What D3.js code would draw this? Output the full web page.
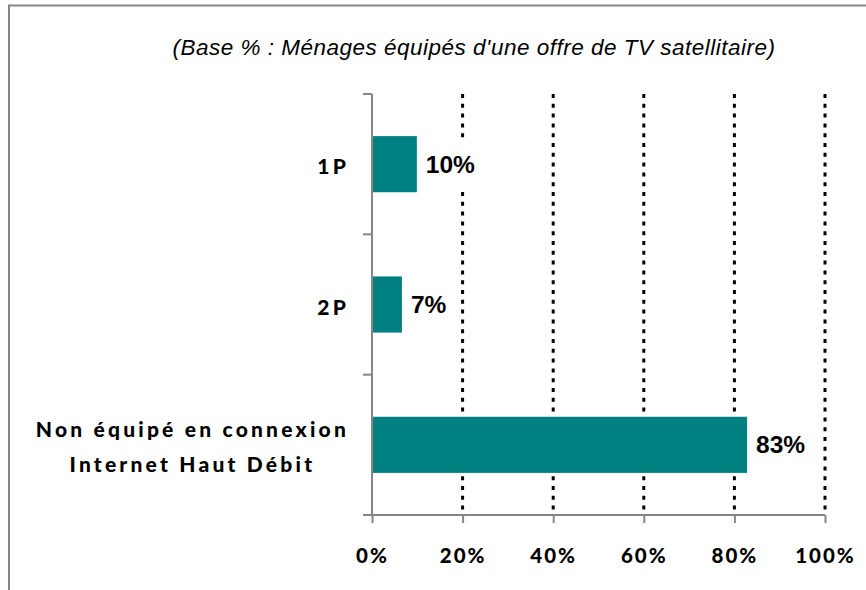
<!DOCTYPE html>
<html>
<head>
<meta charset="utf-8">
<script src="https://cdn.jsdelivr.net/npm/d3@7"></script>
<style>
  html, body { margin: 0; padding: 0; background: #fff; }
  svg { display: block; }
</style>
</head>
<body>
<svg id="chart" width="866" height="590"></svg>
<script>
const titleText = "(Base % : Ménages équipés d'une offre de TV satellitaire)";
const categories = ["1P", "2P", "Non équipé en connexion\nInternet Haut Débit"];
const values = [9.9, 6.6, 82.8];
const tickValues = [0, 20, 40, 60, 80, 100];
const tickLabels = ["0%", "20%", "40%", "60%", "80%", "100%"];

const svg = d3.select("#chart");
const plot = { left: 372, right: 825, top: 94, bottom: 515 };

// outer frame (cropped on right/bottom)
svg.append("rect")
  .attr("x", 9).attr("y", 5.5)
  .attr("width", 900).attr("height", 700)
  .attr("fill", "#fff").attr("stroke", "#868686").attr("stroke-width", 2);

// title
svg.append("text")
  .attr("x", 474).attr("y", 47)
  .attr("text-anchor", "middle").attr("dominant-baseline", "central")
  .attr("font-family", "Liberation Sans, Arial, sans-serif")
  .attr("font-style", "italic").attr("font-size", 22.5).attr("letter-spacing", 0.5).attr("fill", "#000")
  .text(titleText);

const x = d3.scaleLinear().domain([0, 100]).range([plot.left, plot.right]);
const y = d3.scaleBand().domain(categories).range([plot.top, plot.bottom]).paddingInner(0.6).paddingOuter(0.3);

// gridlines (dotted)
svg.append("g").selectAll("line")
  .data(tickValues.filter(d => d > 0))
  .join("line")
  .attr("x1", d => x(d)).attr("x2", d => x(d))
  .attr("y1", plot.top).attr("y2", plot.bottom)
  .attr("stroke", "#000").attr("stroke-width", 3)
  .attr("stroke-dasharray", "4,5.8");

// bars
svg.append("g").selectAll("rect")
  .data(categories)
  .join("rect")
  .attr("x", x(0))
  .attr("y", d => y(d))
  .attr("width", (d, i) => x(values[i]) - x(0))
  .attr("height", y.bandwidth())
  .attr("fill", "#008080");

// value labels with white background
const lblG = svg.append("g");
categories.forEach((c, i) => {
  const g = lblG.append("g");
  const bg = g.append("rect").attr("fill", "#fff");
  const t = g.append("text")
    .attr("x", x(values[i]) + 9)
    .attr("y", y(c) + y.bandwidth() / 2)
    .attr("dominant-baseline", "central")
    .attr("font-family", "Liberation Sans, Arial, sans-serif")
    .attr("font-weight", "bold").attr("font-size", 24.5).attr("fill", "#000")
    .text(Math.round(values[i]) + "%");
  const w = t.node().getComputedTextLength();
  bg.attr("x", x(values[i]) + 6).attr("y", y(c) + 2)
    .attr("width", w + 6).attr("height", y.bandwidth() - 4);
});

// x axis
const xAxis = d3.axisBottom(x).tickValues(tickValues).tickFormat((d, i) => tickLabels[i]).tickSize(8).tickPadding(25);
const gx = svg.append("g").attr("transform", `translate(0,${plot.bottom})`).call(xAxis);
gx.select(".domain").remove();
gx.append("line").attr("x1", plot.left - 9).attr("x2", plot.right).attr("y1", 0).attr("y2", 0)
  .attr("stroke", "#868686").attr("stroke-width", 2);
gx.selectAll(".tick line").attr("stroke", "#868686").attr("stroke-width", 2);
gx.selectAll(".tick text")
  .attr("font-family", "Lato, sans-serif").attr("font-weight", 900)
  .attr("font-size", 20.5).attr("letter-spacing", 2).attr("fill", "#000");

// y axis line and category boundary ticks
svg.append("line").attr("x1", plot.left).attr("x2", plot.left)
  .attr("y1", plot.top).attr("y2", plot.bottom)
  .attr("stroke", "#868686").attr("stroke-width", 2);
const bounds = d3.range(categories.length + 1).map(i => plot.top + i * (plot.bottom - plot.top) / categories.length);
svg.append("g").selectAll("line").data(bounds).join("line")
  .attr("x1", plot.left - 9).attr("x2", plot.left)
  .attr("y1", d => d).attr("y2", d => d)
  .attr("stroke", "#868686").attr("stroke-width", 2);

// y labels
const yl = svg.append("g");
categories.forEach(c => {
  const lines = c.split("\n");
  const cy = y(c) + y.bandwidth() / 2;
  const lh = 35;
  const g = yl.append("g");
  const texts = lines.map((ln, j) => g.append("text")
    .attr("y", cy + (j - (lines.length - 1) / 2) * lh + 1.5)
    .attr("dominant-baseline", "central")
    .attr("text-anchor", "middle")
    .attr("font-family", "Lato, sans-serif").attr("font-weight", 900)
    .attr("font-size", 21).attr("letter-spacing", 3.2).attr("fill", "#000")
    .text(ln));
  const maxW = d3.max(texts, t => t.node().getComputedTextLength());
  texts.forEach(t => t.attr("x", 349 - maxW / 2));
});
</script>
</body>
</html>
